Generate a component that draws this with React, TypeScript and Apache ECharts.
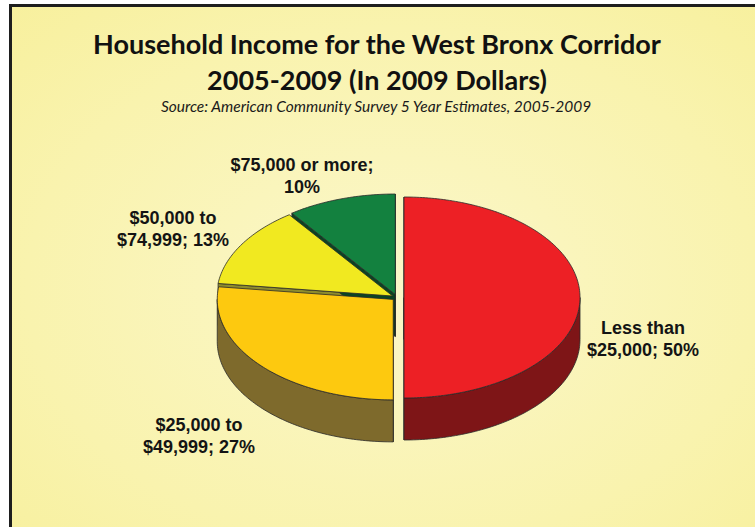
import React, { useEffect, useRef } from "react";
import * as echarts from "echarts";

// ---- data ----
const categories = ["Less than $25,000", "$25,000 to $49,999", "$50,000 to $74,999", "$75,000 or more"];
const shares = [50, 27, 13, 10];
const labelLine1 = ["Less than", "$25,000 to", "$50,000 to", "$75,000 or more"];
const labelLine2 = ["$25,000", "$49,999", "$74,999", ""];
const titleLines = ["Household Income for the West Bronx Corridor", "2005-2009 (In 2009 Dollars)"];
const sourceText = "Source: American Community Survey 5 Year Estimates, 2005-2009";

// ---- styling / layout ----
const topColors = ["#ED2025", "#FDC90F", "#F1E920", "#13813F"];
const sideColors = ["#7E1517", "#7E6A2C", "#8E8C2C", "#0B4423"];
const explode = [7, 5, 5, 5.5];
const labelCenters = [
  [643, 339],
  [199, 436],
  [173, 229],
  [302, 176],
];
const CX = 397;
const CY = 297.5;
const RX = 176;
const RY = 100.5;
const DEPTH = 42;

const total = shares.reduce((a, b) => a + b, 0);
const starts: number[] = [];
{
  let acc = 0;
  shares.forEach((v) => {
    starts.push((acc / total) * 360);
    acc += v;
  });
}

function labelText(i: number, v: number): string {
  if (labelLine2[i]) return `${labelLine1[i]}\n${labelLine2[i]}; ${v}%`;
  return `${labelLine1[i]};\n${v}%`;
}

export default function App() {
  const ref = useRef<HTMLDivElement>(null);
  useEffect(() => {
    if (!ref.current) return;
    const chart = echarts.init(ref.current, undefined, { renderer: "svg" });
    const outline = { stroke: "#2a2a2a", lineWidth: 0.8, lineJoin: "round" };

    const renderItem = (params: any, api: any) => {
      const i = params.dataIndex;
      const v = api.value(0) as number;
      const s = starts[i];
      const e = s + (v / total) * 360;
      const mid = (((s + e) / 2) * Math.PI) / 180;
      const dx = explode[i] * Math.sin(mid);
      const dy = -explode[i] * Math.cos(mid) * (RY / RX);
      const pt = (deg: number, z: number) => {
        const r = (deg * Math.PI) / 180;
        return [CX + dx + RX * Math.sin(r), CY + dy - RY * Math.cos(r) + z];
      };
      const arc = (a: number, b: number, z: number) => {
        const n = Math.max(2, Math.ceil(Math.abs(b - a)));
        const out: number[][] = [];
        for (let k = 0; k <= n; k++) out.push(pt(a + ((b - a) * k) / n, z));
        return out;
      };
      const c0 = [CX + dx, CY + dy];
      const c1 = [CX + dx, CY + dy + DEPTH];
      const children: any[] = [];
      const faces: [number, number][] = [
        [s, s - 90],
        [e, e + 90],
      ];
      faces.forEach(([ang, nrm]) => {
        if (Math.cos((nrm * Math.PI) / 180) <= 0.01) {
          children.push({
            type: "polygon",
            z2: 1,
            shape: { points: [c0, pt(ang, 0), pt(ang, DEPTH), c1] },
            style: { fill: sideColors[i], ...outline },
          });
        }
      });
      const a = Math.max(s, 90);
      const b = Math.min(e, 270);
      if (b > a) {
        children.push({
          type: "polygon",
          z2: 2,
          shape: { points: arc(a, b, 0).concat(arc(b, a, DEPTH)) },
          style: { fill: sideColors[i], ...outline },
        });
      }
      children.push({
        type: "polygon",
        z2: 3,
        shape: { points: [c0, ...arc(s, e, 0)] },
        style: { fill: topColors[i], ...outline },
      });
      children.push({
        type: "text",
        z2: 5,
        x: labelCenters[i][0],
        y: labelCenters[i][1],
        style: {
          text: labelText(i, v),
          fill: "#141414",
          fontFamily: "Liberation Sans, Arial, sans-serif",
          fontWeight: "bold",
          fontSize: 18,
          lineHeight: 22,
          align: "center",
          verticalAlign: "middle",
        },
      });
      return { type: "group", children };
    };

    const titleFont = {
      fill: "#111111",
      fontFamily: "Lato, sans-serif",
      fontWeight: "bold",
      fontSize: 27,
      align: "center",
      verticalAlign: "middle",
    };

    chart.setOption({
      animation: false,
      backgroundColor: "#ffffff",
      graphic: [
        {
          type: "rect",
          z: -20,
          shape: { x: 9, y: 4, width: 760, height: 540 },
          style: { fill: "#1e1e1e" },
        },
        {
          type: "rect",
          z: -19,
          shape: { x: 12, y: 7, width: 760, height: 540 },
          style: {
            fill: {
              type: "radial",
              x: 0.5,
              y: 0.52,
              r: 0.8,
              colorStops: [
                { offset: 0, color: "#FBF7CA" },
                { offset: 0.6, color: "#F9F3AE" },
                { offset: 1, color: "#F7EF98" },
              ],
            },
          },
        },
        {
          type: "text",
          z: 10,
          x: 377,
          y: 43,
          style: { ...titleFont, text: titleLines[0] },
        },
        {
          type: "text",
          z: 10,
          x: 377,
          y: 79,
          style: { ...titleFont, text: titleLines[1] },
        },
        {
          type: "text",
          z: 10,
          x: 376,
          y: 106,
          style: {
            text: sourceText,
            fill: "#1a1a1a",
            fontFamily: "Lato, sans-serif",
            fontStyle: "italic",
            fontSize: 15.5,
            align: "center",
            verticalAlign: "middle",
          },
        },
      ],
      series: [
        {
          type: "custom",
          coordinateSystem: "none",
          renderItem,
          data: shares.map((v, i) => ({ name: categories[i], value: [v] })),
        },
      ],
    });
    return () => chart.dispose();
  }, []);
  return (
    <div
      ref={ref}
      style={{ position: "fixed", left: 0, top: 0, width: 755, height: 527 }}
    />
  );
}
